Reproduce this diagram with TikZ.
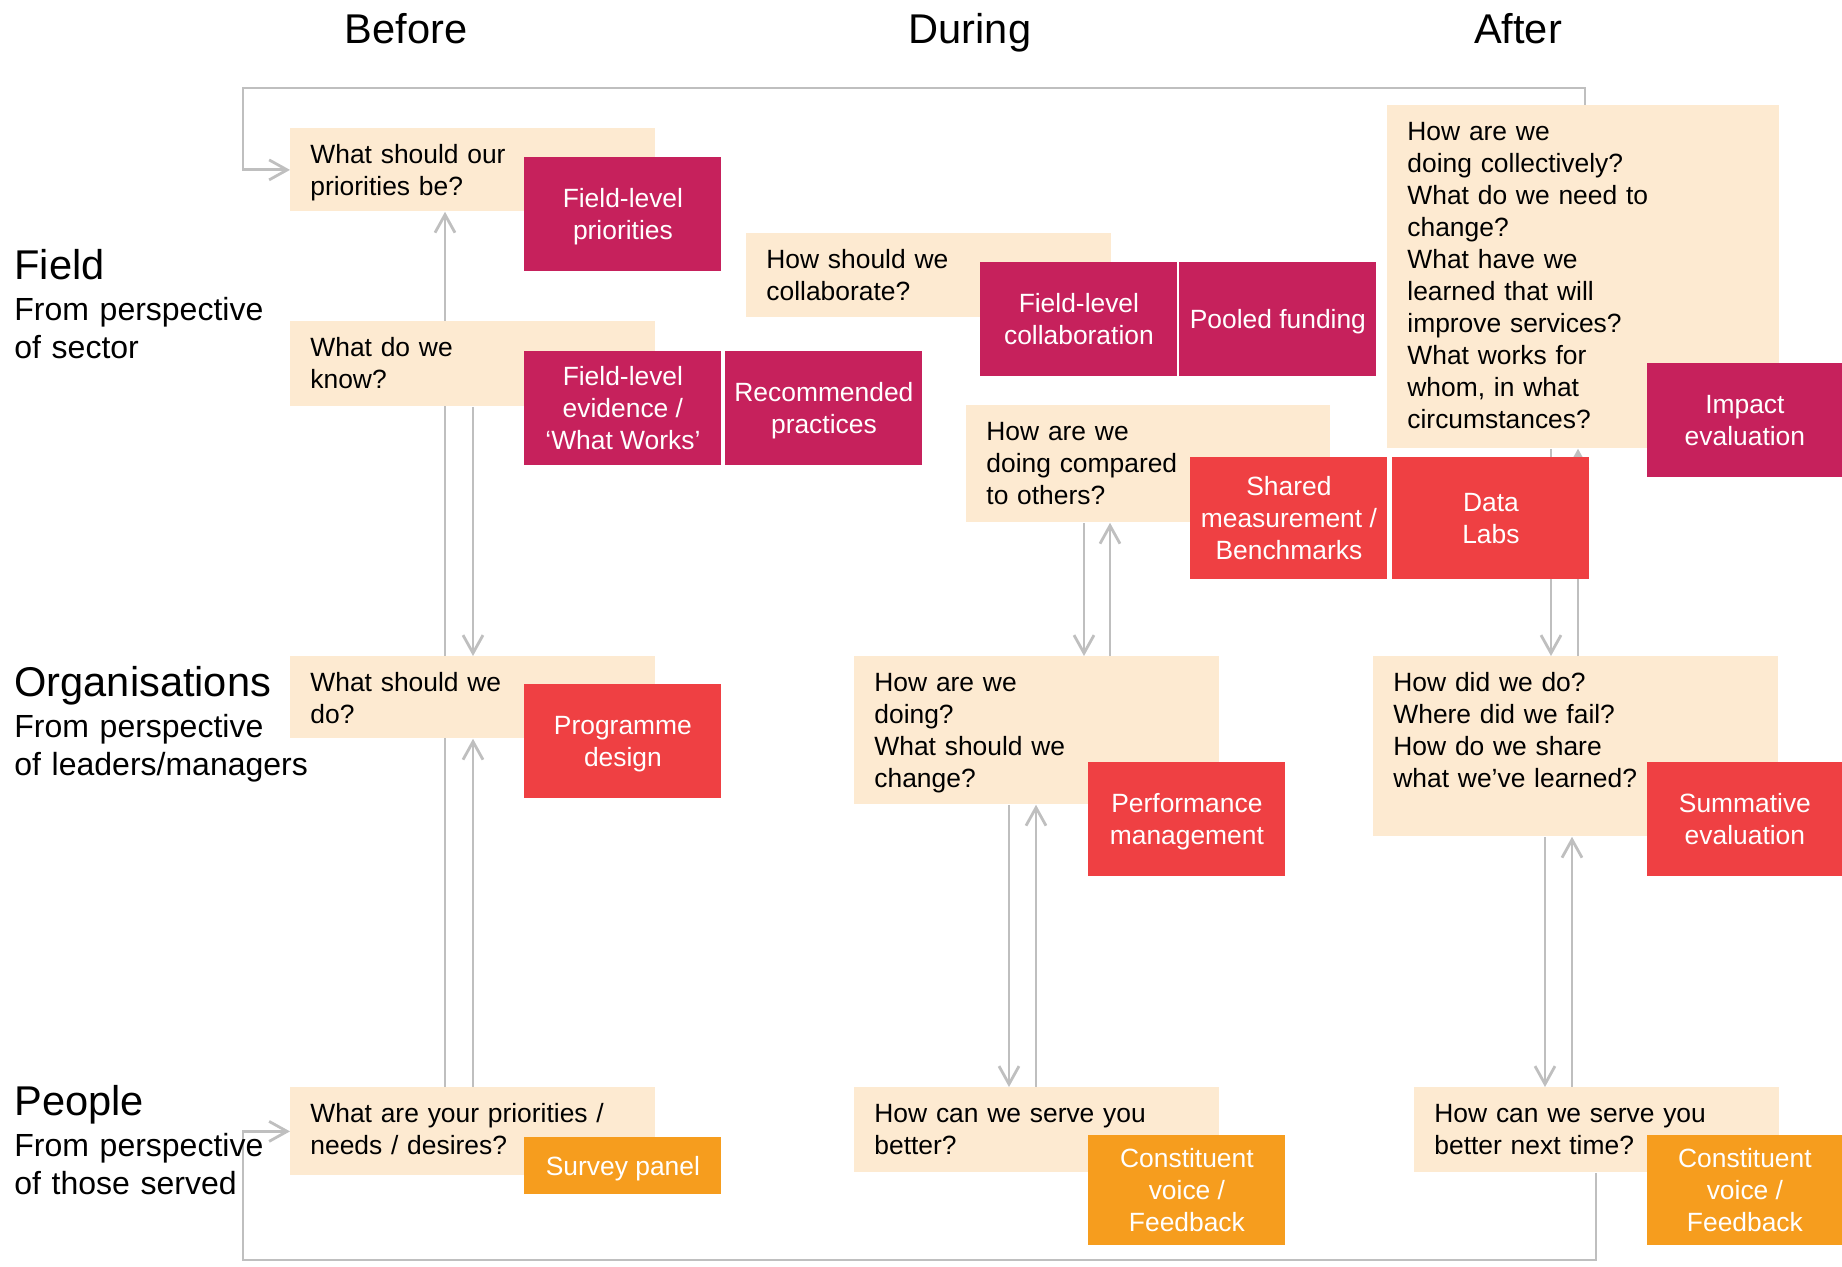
\documentclass[tikz,border=0pt]{standalone}
\usepackage{fontspec}
\setmainfont{Liberation Sans}
\usepackage{tikz}
\usetikzlibrary{arrows.meta,backgrounds}
\definecolor{qbeige}{HTML}{FDEAD1}
\definecolor{tagmag}{HTML}{C6215C}
\definecolor{tagred}{HTML}{EF4043}
\definecolor{tagorange}{HTML}{F69D1E}
\definecolor{flowgray}{HTML}{BFBFBF}
\newcommand{\qfont}{\fontsize{13.2}{16}\selectfont}
\tikzstyle{ques}=[anchor=north west, fill=qbeige, inner xsep=10pt, inner ysep=0pt,% text starts at the top
align=left, font=\qfont, text height=17.45pt]
\tikzstyle{tag}=[anchor=north west, inner sep=0pt, minimum width=98.5pt, minimum height=57pt,
align=center, text=white, font=\qfont, text depth=0pt]
\tikzstyle{magtag}=[tag, fill=tagmag]
\tikzstyle{redtag}=[tag, fill=tagred]
\tikzstyle{orgtag}=[tag, fill=tagorange]
\tikzstyle{phase}=[anchor=base, font=\fontsize{20.8}{24}\selectfont]
\tikzstyle{level}=[anchor=base west, inner sep=0pt, text width=170pt, align=left, font=\fontsize{16}{19}\selectfont]
\tikzstyle{flow}=[-{Straight Barb[length=9pt,width=10pt]}, draw=flowgray, line width=1.4pt]

\begin{document}
\begin{tikzpicture}[x=0.5pt, y=-0.5pt]
\useasboundingbox (0,0) rectangle (1842,1267);
% headers
\node[phase] (before) at (406,44) {Before};
\node[phase] (during) at (970,44) {During};
\node[phase] (after) at (1518,44) {After};
\node[level] (field) at (14,280) {{\fontsize{20.8}{24}\selectfont Field}\\[1.5pt]From perspective\\of sector};
\node[level] (orgs) at (14,696) {{\fontsize{20.8}{24}\selectfont Organisations}\\[1.5pt]From perspective\\of leaders/managers};
\node[level] (people) at (14,1115) {{\fontsize{20.8}{24}\selectfont People}\\[1.5pt]From perspective\\of those served};
% questions
\node[ques, text width=162.5pt, text depth=24.05pt] (prioq) at (290,128) {What should our\\priorities be?};
\node[ques, text width=162.5pt, text depth=25.05pt] (knowq) at (290,321) {What do we\\know?};
\node[ques, text width=162.5pt, text depth=24.55pt] (collq) at (746,233) {How should we\\collaborate?};
\node[ques, text width=162pt, text depth=41.05pt] (compq) at (966,405) {How are we\\doing compared\\to others?};
\node[ques, text width=176pt, text depth=154.05pt] (fieldq) at (1387,105) {How are we\\doing collectively?\\What do we need to\\change?\\What have we\\learned that will\\improve services?\\What works for\\whom, in what\\circumstances?};
\node[ques, text width=162.5pt, text depth=23.55pt] (orgbq) at (290,656) {What should we\\do?};
\node[ques, text width=162.5pt, text depth=56.55pt] (orgdq) at (854,656) {How are we\\doing?\\What should we\\change?};
\node[ques, text width=182.5pt, text depth=72.55pt] (orgaq) at (1373,656) {How did we do?\\Where did we fail?\\How do we share\\what we’ve learned?};
\node[ques, text width=162.5pt, text depth=26.55pt] (pplbq) at (290,1087) {What are your priorities /\\needs / desires?};
\node[ques, text width=162.5pt, text depth=25.05pt] (ppldq) at (854,1087) {How can we serve you\\better?};
\node[ques, text width=162.5pt, text depth=25.05pt] (pplaq) at (1414,1087) {How can we serve you\\better next time?};
% tools
\node[magtag] (flprio) at (524,157) {Field-level\\priorities};
\node[magtag] (flevid) at (524,351) {Field-level\\evidence /\\‘What Works’};
\node[magtag] (recpr) at (725,351) {Recommended\\practices};
\node[magtag] (flcoll) at (980,262) {Field-level\\collaboration};
\node[magtag] (pooled) at (1179,262) {Pooled funding};
\node[magtag, minimum width=97.5pt] (impact) at (1647,363) {Impact\\evaluation};
\node[redtag, minimum height=61pt] (shared) at (1190,457) {Shared\\measurement /\\Benchmarks};
\node[redtag, minimum height=61pt] (datalabs) at (1392,457) {Data\\Labs};
\node[redtag] (progd) at (524,684) {Programme\\design};
\node[redtag] (perfm) at (1088,762) {Performance\\management};
\node[redtag, minimum width=97.5pt] (summ) at (1647,762) {Summative\\evaluation};
\node[orgtag, minimum height=28.5pt] (survey) at (524,1137) {Survey panel};
\node[orgtag, minimum height=55pt] (cvd) at (1088,1135) {Constituent\\voice /\\Feedback};
\node[orgtag, minimum height=55pt, minimum width=97.5pt] (cva) at (1647,1135) {Constituent\\voice /\\Feedback};
% columns of the connectors
\coordinate (bL) at (445,0);
\coordinate (bR) at (473,0);
\coordinate (dUL) at (1084,0);
\coordinate (dUR) at (1110,0);
\coordinate (dLL) at (1009,0);
\coordinate (dLR) at (1036,0);
\coordinate (aUL) at (1551,0);
\coordinate (aUR) at (1578,0);
\coordinate (aLL) at (1545,0);
\coordinate (aLR) at (1572,0);
\coordinate (topR) at (1585,88);
\coordinate (topL) at (243,88);
\coordinate (botR) at (1596,1260);
\coordinate (botL) at (243,1260);
\begin{scope}[on background layer]
\draw[flow] (pplbq.north -| bL) -- (prioq.south -| bL);
\draw[flow] (knowq.south -| bR) -- (orgbq.north -| bR);
\draw[flow] (pplbq.north -| bR) -- (orgbq.south -| bR);
\draw[flow] (compq.south -| dUL) -- (orgdq.north -| dUL);
\draw[flow] (orgdq.north -| dUR) -- (compq.south -| dUR);
\draw[flow] (orgdq.south -| dLL) -- (ppldq.north -| dLL);
\draw[flow] (ppldq.north -| dLR) -- (orgdq.south -| dLR);
\draw[flow] (fieldq.south -| aUL) -- (orgaq.north -| aUL);
\draw[flow] (orgaq.north -| aUR) -- (fieldq.south -| aUR);
\draw[flow] (orgaq.south -| aLL) -- (pplaq.north -| aLL);
\draw[flow] (pplaq.north -| aLR) -- (orgaq.south -| aLR);
\draw[flow] (fieldq.north -| topR) -- (topR) -- (topL) |- (prioq.west);
\draw[flow] (pplaq.south -| botR) -- (botR) -- (botL) |- (pplbq.west);
\end{scope}
\end{tikzpicture}
\end{document}
